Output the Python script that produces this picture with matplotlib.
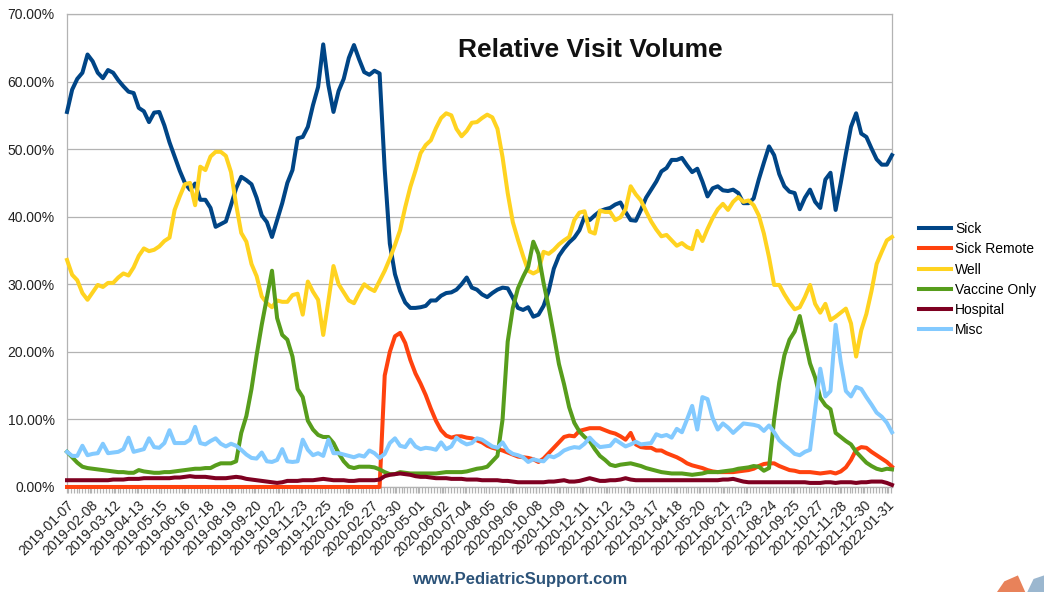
import numpy as np
import pandas as pd
import matplotlib
matplotlib.use('Agg')
import matplotlib.pyplot as plt
import matplotlib.dates as mdates
from matplotlib.ticker import FuncFormatter
from matplotlib.patches import Polygon

plt.rcParams['font.family'] = ['Liberation Sans', 'DejaVu Sans']

# weekly share of visits, in percent (2019-01-07 .. 2022-02-07)
sick = [
    55.5, 58.8, 60.4, 61.3, 64.0, 63.0, 61.3, 60.5, 61.7, 61.3,
    60.2, 59.3, 58.5, 58.3, 56.1, 55.6, 54.0, 55.4, 55.5, 53.5,
    51.0, 48.9, 46.8, 45.0, 44.0, 44.9, 42.5, 42.5, 41.3, 38.5,
    38.9, 39.3, 41.7, 44.2, 45.9, 45.4, 44.8, 42.8, 40.2, 39.2,
    37.0, 39.5, 42.0, 45.0, 46.9, 51.6, 51.8, 53.3, 56.5, 59.2,
    65.5, 59.5, 55.5, 58.6, 60.4, 63.5, 65.4, 63.3, 61.4, 61.0,
    61.6, 61.2, 47.0, 36.0, 31.5, 29.0, 27.3, 26.5, 26.5, 26.6,
    26.8, 27.6, 27.6, 28.3, 28.7, 28.8, 29.2, 30.0, 31.0, 29.5,
    29.2, 28.5, 28.1, 28.7, 29.2, 29.5, 29.4, 28.0, 26.5, 26.2,
    26.6, 25.2, 25.5, 26.8, 29.0, 32.3, 34.2, 35.3, 36.2, 36.9,
    38.0, 40.0, 39.5, 40.2, 40.8, 41.1, 41.3, 41.8, 42.1, 40.7,
    39.5, 39.4, 41.0, 42.8, 44.0, 45.2, 46.7, 47.2, 48.4, 48.4,
    48.7, 47.6, 46.6, 47.1, 45.2, 43.0, 44.2, 44.5, 43.9, 43.8,
    44.0, 43.5, 42.0, 42.0, 42.7, 45.5, 48.0, 50.4, 49.1, 46.3,
    44.5, 43.7, 43.5, 41.1, 42.8, 44.0, 42.2, 41.3, 45.5, 46.5,
    41.0, 45.0, 49.3, 53.3, 55.3, 52.3, 51.8, 50.1, 48.5, 47.7,
    47.7, 49.1,
]

sick_remote = [0.0] * 62 + [
    16.5, 20.0, 22.3, 22.8, 21.3, 18.8, 16.8, 15.3,
    13.6, 11.6, 9.8, 8.4, 7.6, 7.3, 7.5, 7.5, 7.3, 7.2,
    6.9, 6.6, 6.1, 5.8, 5.6, 5.4, 5.1, 4.8, 4.5, 4.4,
    4.3, 4.1, 3.7, 4.2, 5.0, 5.8, 6.6, 7.4, 7.6, 7.5,
    8.3, 8.5, 8.7, 8.7, 8.7, 8.4, 8.1, 7.9, 7.5, 7.0,
    8.0, 6.3, 5.9, 5.8, 5.8, 5.4, 5.4, 5.0, 4.7, 4.4,
    4.0, 3.5, 3.2, 3.0, 2.8, 2.5, 2.3, 2.2, 2.2, 2.2,
    2.2, 2.3, 2.4, 2.5, 2.7, 3.1, 3.4, 3.5, 3.5, 3.1,
    2.8, 2.5, 2.4, 2.2, 2.2, 2.2, 2.1, 2.0, 2.1, 2.2,
    2.0, 2.3, 2.9, 4.0, 5.5, 5.9, 5.8, 5.2, 4.7, 4.2,
    3.7, 3.0,
]

well = [
    33.6, 31.4, 30.6, 28.7, 27.7, 28.8, 29.9, 29.6, 30.2, 30.2,
    31.0, 31.6, 31.3, 32.5, 34.2, 35.3, 34.9, 35.1, 35.6, 36.4,
    36.9, 41.0, 43.0, 44.8, 45.0, 41.7, 47.4, 46.9, 48.9, 49.6,
    49.6, 49.0, 46.6, 41.8, 37.6, 36.3, 33.0, 31.2, 28.2, 27.2,
    26.6, 27.6, 27.4, 27.4, 28.4, 28.6, 25.5, 30.4, 28.9, 27.7,
    22.5, 27.5, 32.7, 30.0, 28.8, 27.6, 27.2, 28.7, 30.0, 29.4,
    29.0, 30.5, 32.0, 33.8, 35.8, 38.0, 41.4, 44.4, 46.8, 49.4,
    50.6, 51.3, 53.1, 54.6, 55.3, 55.0, 53.0, 51.9, 52.7, 53.9,
    54.0, 54.6, 55.1, 54.7, 53.0, 48.8, 43.5, 39.2, 36.6, 34.2,
    32.0, 31.6, 32.0, 34.8, 34.5, 35.1, 35.9, 36.5, 37.0, 39.5,
    40.6, 40.8, 37.8, 37.5, 40.9, 40.7, 40.7, 39.5, 39.9, 41.1,
    44.5, 43.3, 42.4, 40.8, 39.3, 38.1, 37.1, 37.3, 36.5, 35.7,
    36.1, 35.5, 35.2, 37.9, 36.4, 38.2, 39.8, 41.1, 41.9, 41.0,
    42.2, 42.9, 42.2, 42.4, 41.7, 40.2, 37.5, 34.0, 29.9, 29.9,
    28.5, 27.3, 26.3, 26.6, 28.1, 29.9, 27.1, 25.8, 27.1, 24.7,
    25.2, 25.8, 26.4, 24.2, 19.3, 23.2, 25.6, 29.0, 33.0, 34.8,
    36.5, 37.0,
]

vaccine_only = [
    5.2, 4.4, 3.6, 3.0, 2.8, 2.7, 2.6, 2.5, 2.4, 2.3,
    2.2, 2.2, 2.1, 2.1, 2.5, 2.3, 2.2, 2.1, 2.1, 2.2,
    2.2, 2.3, 2.4, 2.5, 2.6, 2.7, 2.7, 2.8, 2.8, 3.2,
    3.5, 3.5, 3.5, 3.8, 8.0, 10.5, 14.5, 19.5, 24.0, 28.0,
    32.0, 25.0, 22.5, 21.8, 19.3, 14.5, 13.3, 9.8, 8.5, 7.7,
    7.4, 7.4, 6.5, 5.0, 3.8, 3.0, 2.8, 3.0, 3.0, 3.0,
    2.9, 2.6, 2.2, 1.9, 1.9, 2.2, 2.1, 2.0, 2.0, 2.0,
    2.0, 2.0, 2.0, 2.1, 2.2, 2.2, 2.2, 2.2, 2.3, 2.5,
    2.7, 2.8, 3.0, 3.8, 4.6, 10.0, 21.5, 26.5, 29.4, 31.1,
    32.6, 36.3, 34.5, 30.2, 26.6, 22.5, 18.2, 15.2, 11.8, 9.5,
    8.2, 7.4, 6.8, 5.6, 4.6, 4.0, 3.3, 3.1, 3.3, 3.4,
    3.5, 3.3, 3.1, 2.8, 2.6, 2.4, 2.2, 2.1, 2.0, 2.0,
    2.0, 1.9, 1.8, 1.9, 2.0, 2.2, 2.2, 2.2, 2.3, 2.4,
    2.5, 2.7, 2.8, 2.9, 3.1, 3.0, 2.4, 2.8, 10.0, 15.5,
    19.5, 21.8, 23.0, 25.3, 21.8, 18.3, 16.2, 13.2, 12.1, 11.5,
    8.0, 7.4, 6.8, 6.3, 5.2, 4.4, 3.6, 3.1, 2.7, 2.5,
    2.7, 2.6,
]

hospital = [
    1.0, 1.0, 1.0, 1.0, 1.0, 1.0, 1.0, 1.0, 1.0, 1.1,
    1.1, 1.1, 1.2, 1.2, 1.2, 1.3, 1.3, 1.3, 1.3, 1.3,
    1.3, 1.4, 1.4, 1.5, 1.6, 1.5, 1.5, 1.5, 1.4, 1.3,
    1.3, 1.3, 1.4, 1.5, 1.4, 1.2, 1.1, 1.0, 0.9, 0.8,
    0.7, 0.6, 0.7, 0.9, 0.9, 0.9, 1.0, 1.0, 1.0, 1.1,
    1.2, 1.1, 1.0, 1.0, 1.0, 0.9, 0.9, 1.0, 1.0, 1.0,
    1.0, 1.1, 1.6, 1.8, 1.9, 2.0, 1.9, 1.8, 1.6, 1.5,
    1.5, 1.4, 1.3, 1.3, 1.3, 1.2, 1.2, 1.2, 1.1, 1.1,
    1.1, 1.0, 1.0, 1.0, 1.0, 0.9, 0.9, 0.8, 0.7, 0.7,
    0.7, 0.7, 0.7, 0.7, 0.8, 0.8, 0.9, 1.0, 0.8, 0.8,
    0.9, 1.1, 1.3, 1.1, 0.9, 0.9, 1.0, 1.0, 1.1, 1.3,
    1.1, 1.0, 1.0, 1.0, 1.0, 1.0, 1.0, 1.0, 1.0, 1.0,
    1.0, 1.0, 1.0, 1.0, 1.0, 1.0, 1.0, 1.0, 1.1, 1.1,
    1.2, 1.0, 0.8, 0.7, 0.7, 0.7, 0.7, 0.7, 0.7, 0.7,
    0.7, 0.7, 0.7, 0.7, 0.7, 0.6, 0.6, 0.6, 0.7, 0.7,
    0.6, 0.7, 0.7, 0.7, 0.6, 0.7, 0.7, 0.8, 0.8, 0.8,
    0.6, 0.3,
]

misc = [
    5.2, 4.6, 4.6, 6.1, 4.7, 4.9, 5.0, 6.4, 5.0, 5.1,
    5.2, 5.6, 7.3, 5.2, 5.4, 5.6, 7.2, 5.9, 5.8, 6.5,
    8.4, 6.5, 6.5, 6.5, 7.0, 8.9, 6.5, 6.3, 6.8, 7.2,
    6.4, 6.0, 6.4, 6.1, 5.5, 4.8, 4.3, 4.2, 5.1, 3.8,
    3.7, 4.0, 5.6, 3.8, 3.7, 3.8, 7.0, 5.5, 4.7, 5.0,
    4.6, 7.0, 5.0, 5.0, 4.8, 4.6, 4.4, 4.7, 4.5, 5.4,
    5.0, 4.3, 4.9, 6.5, 7.2, 6.1, 5.9, 7.0, 6.0, 5.6,
    5.8, 5.7, 5.5, 6.6, 5.6, 6.0, 7.3, 6.7, 6.3, 6.5,
    7.2, 7.0, 6.5, 6.0, 5.8, 6.6, 5.4, 4.9, 4.7, 4.4,
    3.7, 4.1, 3.9, 3.8, 4.6, 4.4, 4.8, 5.4, 5.7, 5.9,
    5.8, 6.4, 7.3, 6.5, 5.9, 6.0, 6.1, 7.0, 6.5, 6.0,
    6.3, 6.7, 6.3, 6.4, 6.5, 7.8, 7.5, 7.7, 7.3, 8.6,
    8.1, 10.0, 12.0, 8.5, 13.3, 13.0, 10.2, 8.5, 9.4, 8.8,
    8.0, 8.7, 9.4, 9.3, 9.2, 9.0, 8.3, 9.1, 8.1, 6.9,
    6.2, 5.6, 4.9, 4.7, 5.2, 5.5, 11.5, 17.5, 13.4, 14.2,
    24.0, 18.5, 14.2, 13.4, 14.8, 14.5, 13.3, 12.2, 11.0, 10.4,
    9.5, 8.1,
]

series_names = ['Sick', 'Sick Remote', 'Well', 'Vaccine Only', 'Hospital', 'Misc']
series_colors = ['#004586', '#ff420e', '#ffd320', '#579d1c', '#7e0021', '#83caff']

tick_labels = [
    '2019-01-07', '2019-02-08', '2019-03-12', '2019-04-13', '2019-05-15', '2019-06-16',
    '2019-07-18', '2019-08-19', '2019-09-20', '2019-10-22', '2019-11-23', '2019-12-25',
    '2020-01-26', '2020-02-27', '2020-03-30', '2020-05-01', '2020-06-02', '2020-07-04',
    '2020-08-05', '2020-09-06', '2020-10-08', '2020-11-09', '2020-12-11', '2021-01-12',
    '2021-02-13', '2021-03-17', '2021-04-18', '2021-05-20', '2021-06-21', '2021-07-23',
    '2021-08-24', '2021-09-25', '2021-10-27', '2021-11-28', '2021-12-30', '2022-01-31',
]

dates = pd.date_range('2019-01-07', periods=len(sick), freq='7D')

fig = plt.figure(figsize=(10.44, 5.92), dpi=100)
ax = fig.add_axes([0.0642, 0.1774, 0.7902, 0.799])

all_series = [sick, sick_remote, well, vaccine_only, hospital, misc]
for vals, name, col in zip(all_series, series_names, series_colors):
    ax.plot(dates, vals, color=col, lw=2.9, label=name,
            solid_joinstyle='round', clip_on=False, zorder=3)

ax.set_ylim(0, 70)
ax.set_yticks(np.arange(0, 71, 10))
ax.yaxis.set_major_formatter(FuncFormatter(lambda v, p: f'{v:.2f}%'))
ax.set_xlim(dates[0], dates[-1])

ax.set_xticks(pd.to_datetime(tick_labels))
ax.set_xticklabels(tick_labels, rotation=45, ha='right', rotation_mode='anchor',
                   fontsize=10, color='#222222')
ax.xaxis.set_minor_locator(mdates.DayLocator(interval=4))
ax.tick_params(axis='x', which='both', length=4, width=0.9, color='#b3b3b3', pad=4)
ax.tick_params(axis='y', length=0, pad=9, labelsize=10, labelcolor='#222222')

ax.grid(axis='y', color='#b3b3b3', lw=0.9)
ax.set_axisbelow(True)
for s in ax.spines.values():
    s.set_color('#b3b3b3')
    s.set_linewidth(0.9)
    s.set_zorder(1)

fig.text(0.565, 0.915, 'Relative Visit Volume', ha='center', va='center',
         fontsize=19, fontweight='bold', color='#111111')

fig.legend(loc='upper left', bbox_to_anchor=(0.880, 0.625), frameon=False,
           fontsize=10, handlelength=2.3, handletextpad=0.3, labelspacing=0.45,
           borderpad=0, borderaxespad=0)

# footer watermark
fig.text(0.498, 0.034, 'www.PediatricSupport.com', ha='center', va='top',
         fontsize=12, fontweight='bold', color='#2c5379')

# corner logo fragments
fig.patches.append(Polygon([(0.955, 0.0), (0.962, 0.018), (0.975, 0.028), (0.982, 0.0)],
                           closed=True, transform=fig.transFigure,
                           facecolor='#e8825a', edgecolor='none'))
fig.patches.append(Polygon([(0.984, 0.0), (0.99, 0.022), (1.0, 0.028), (1.0, 0.0)],
                           closed=True, transform=fig.transFigure,
                           facecolor='#9bb7cf', edgecolor='none'))

fig.savefig('out.png', dpi=100)
